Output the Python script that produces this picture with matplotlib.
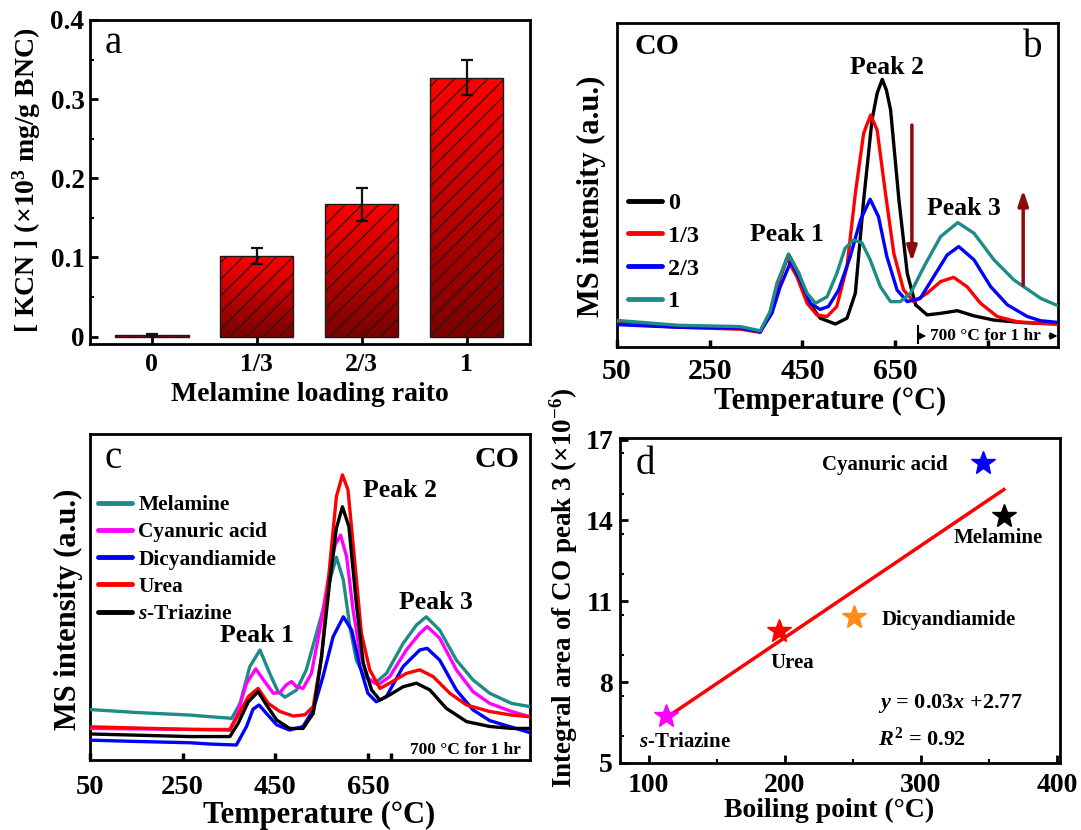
import numpy as np
import matplotlib
matplotlib.use("Agg")
import matplotlib.pyplot as plt
from matplotlib.colors import LinearSegmentedColormap
from matplotlib.ticker import MultipleLocator

plt.rcParams['font.family'] = ['Liberation Serif', 'DejaVu Serif']
plt.rcParams['font.weight'] = 'bold'
plt.rcParams['axes.labelweight'] = 'bold'
plt.rcParams['mathtext.fontset'] = 'custom'
plt.rcParams['mathtext.rm'] = 'Liberation Serif:bold'
plt.rcParams['mathtext.it'] = 'Liberation Serif:italic:bold'
plt.rcParams['mathtext.bf'] = 'Liberation Serif:bold'
plt.rcParams['hatch.linewidth'] = 0.8

# ---------------- data ----------------
# panel a
ratio_labels = ['0', '1/3', '2/3', '1']
kcn_values = [0.002, 0.102, 0.167, 0.327]
kcn_errors = [0.001, 0.010, 0.021, 0.022]

# panel b (MS intensity, arbitrary units 0-100)
b_black_x = [50, 182, 316, 359, 380, 395, 420, 442, 460, 488, 521, 546, 564, 582, 600, 611, 622, 631, 640, 658, 676, 694, 719, 748, 784, 820, 863, 928, 964, 1000]
b_black_y = [7.7, 6.4, 5.8, 4.7, 10.4, 18.6, 28.6, 22.7, 14.5, 8.9, 7.1, 8.9, 16.6, 45.4, 70.1, 78.3, 82.6, 79.3, 73.2, 45.4, 22.7, 13.0, 9.9, 10.4, 11.2, 9.6, 8.3, 7.5, 7.3, 7.2]
b_red_x = [50, 182, 316, 359, 380, 395, 416, 438, 460, 481, 503, 524, 546, 564, 582, 597, 611, 629, 647, 668, 690, 719, 748, 776, 805, 834, 870, 913, 964, 1000]
b_red_y = [7.2, 6.1, 5.5, 4.5, 10.4, 18.6, 27.4, 21.7, 13.5, 9.9, 9.4, 12.5, 24.8, 47.4, 66.0, 71.6, 67.0, 47.4, 28.9, 17.6, 14.0, 16.6, 20.2, 21.5, 18.6, 13.5, 9.4, 7.8, 7.3, 7.0]
b_blue_x = [50, 182, 316, 359, 384, 402, 425, 445, 467, 488, 506, 528, 553, 575, 596, 614, 632, 654, 676, 704, 733, 762, 787, 820, 856, 892, 935, 964, 1000]
b_blue_y = [6.9, 6.1, 5.8, 4.7, 10.4, 18.6, 26.4, 20.7, 13.5, 11.6, 12.5, 17.6, 27.9, 39.2, 45.6, 40.2, 27.9, 17.6, 14.0, 15.0, 21.7, 28.4, 31.0, 26.9, 18.6, 13.0, 9.4, 8.1, 7.6]
b_teal_x = [50, 182, 316, 359, 380, 395, 420, 442, 460, 478, 503, 524, 542, 560, 578, 596, 618, 640, 661, 683, 712, 748, 785, 820, 863, 906, 964, 1000]
b_teal_y = [8.2, 6.7, 6.3, 5.0, 10.9, 19.7, 28.6, 22.7, 16.6, 13.5, 15.5, 22.7, 30.5, 33.0, 32.2, 26.9, 18.6, 14.0, 14.0, 16.6, 24.8, 34.1, 38.4, 35.1, 26.9, 20.7, 15.0, 12.8]
b_labels = ['0', '1/3', '2/3', '1']

# panel c
c_mel_x = [50, 150, 266, 309, 356, 374, 395, 417, 438, 456, 471, 496, 517, 535, 553, 568, 582, 597, 611, 625, 643, 665, 690, 726, 755, 776, 805, 841, 877, 913, 960, 1000]
c_mel_y = [15.5, 14.6, 13.8, 13.3, 12.8, 17.4, 28.7, 33.8, 26.6, 21.0, 19.3, 21.5, 27.7, 36.9, 46.1, 55.3, 62.3, 55.3, 41.0, 30.7, 25.6, 23.6, 26.6, 35.8, 41.5, 44.0, 39.9, 30.7, 24.6, 20.5, 17.4, 16.4]
c_cya_x = [50, 266, 352, 366, 388, 408, 427, 446, 460, 474, 485, 496, 510, 528, 546, 564, 579, 591, 604, 618, 633, 650, 672, 697, 733, 762, 778, 805, 841, 877, 913, 960, 1000]
c_cya_y = [9.7, 9.4, 9.4, 13.3, 23.6, 28.0, 24.1, 20.5, 20.7, 23.1, 24.1, 22.5, 22.0, 26.6, 39.9, 55.3, 66.0, 69.1, 62.5, 46.1, 32.8, 25.1, 23.1, 25.6, 33.8, 38.9, 41.0, 37.4, 27.7, 21.0, 17.4, 14.9, 13.3]
c_dic_x = [50, 150, 266, 309, 366, 388, 402, 415, 431, 453, 481, 510, 532, 553, 575, 597, 615, 633, 650, 668, 690, 726, 762, 778, 805, 841, 877, 913, 960, 1000]
c_dic_y = [6.1, 5.7, 5.3, 4.9, 4.6, 10.3, 15.6, 16.9, 14.3, 10.8, 9.2, 10.3, 15.4, 25.6, 37.9, 44.0, 39.9, 28.7, 20.5, 17.9, 19.5, 28.7, 33.8, 34.3, 30.7, 21.5, 15.4, 12.1, 10.1, 8.4]
c_urea_x = [50, 266, 352, 370, 392, 413, 435, 460, 489, 514, 532, 550, 568, 582, 595, 607, 622, 636, 654, 676, 697, 733, 762, 791, 827, 863, 913, 960, 1000]
c_urea_y = [10.2, 9.4, 9.2, 13.8, 19.5, 22.0, 17.4, 14.9, 13.5, 13.9, 16.4, 31.8, 60.4, 80.9, 87.6, 83.0, 60.4, 38.9, 27.7, 22.0, 23.6, 26.6, 27.7, 25.6, 20.5, 16.9, 14.9, 13.8, 13.3]
c_tri_x = [50, 266, 352, 370, 392, 413, 431, 453, 481, 510, 532, 550, 568, 582, 595, 609, 625, 640, 658, 676, 697, 726, 755, 784, 819, 863, 913, 960, 1000]
c_tri_y = [8.0, 7.2, 7.2, 11.3, 17.9, 21.0, 16.9, 12.3, 9.7, 9.7, 14.3, 31.8, 55.3, 71.2, 77.8, 71.7, 48.1, 29.7, 21.5, 18.4, 20.0, 22.5, 23.6, 21.5, 15.9, 11.8, 10.3, 9.7, 9.7]
c_labels = ['Melamine', 'Cyanuric acid', 'Dicyandiamide', 'Urea', '$s$-Triazine']

# panel d
d_names = ['$s$-Triazine', 'Urea', 'Dicyandiamide', 'Cyanuric acid', 'Melamine']
d_boiling = [112.7, 195.7, 251.0, 345.6, 360.8]
d_area = [6.76, 9.90, 10.40, 16.13, 14.16]
d_colors = ['#FF00FF', '#FF0000', '#FF8C1A', '#0000FF', '#000000']

TEAL = '#1E8C86'

# ---------------- figure ----------------
W, H = 1081, 830
fig = plt.figure(figsize=(W / 100, H / 100), dpi=100)

def ax_at(l, t, r, b):
    return fig.add_axes([l / W, 1 - b / H, (r - l) / W, (b - t) / H])

axa = ax_at(90, 20, 529.5, 344.5)
axb = ax_at(617, 23, 1057.5, 347)
axc = ax_at(90, 434.5, 530, 760)
axd = ax_at(620, 438, 1060, 763)

for ax in (axa, axb, axc, axd):
    for s in ax.spines.values():
        s.set_linewidth(2.0)

# ---------- panel a ----------
xpos = np.arange(len(kcn_values))
cmap_bar = LinearSegmentedColormap.from_list('bar', ['#7A0000', '#FF0000'])
bars = axa.bar(xpos, kcn_values, width=0.70, color='none', edgecolor='#1a1a1a',
               linewidth=1.0, hatch='//', zorder=3)
grad = np.linspace(0, 1, 256).reshape(-1, 1)
for bar in bars:
    x0, w, h = bar.get_x(), bar.get_width(), bar.get_height()
    im = axa.imshow(grad, extent=(x0, x0 + w, 0, h), origin='lower', aspect='auto',
                    cmap=cmap_bar, zorder=2)
    im.set_clip_path(bar)
axa.errorbar(xpos, kcn_values, yerr=kcn_errors, fmt='none', ecolor='#111111',
             elinewidth=1.6, capsize=4, capthick=1.6, zorder=4)
axa.set_xlim(-0.59, 3.6)
axa.set_ylim(-0.01, 0.4)
axa.set_xticks(xpos)
axa.set_xticklabels(ratio_labels)
axa.set_yticks([0, 0.1, 0.2, 0.3, 0.4])
axa.set_yticklabels(['0', '0.1', '0.2', '0.3', '0.4'])
axa.yaxis.set_minor_locator(MultipleLocator(0.05))
axa.tick_params(axis='x', direction='in', length=5, width=2, labelsize=18.5, pad=6)
axa.tick_params(axis='y', which='major', direction='in', length=6, width=2, labelsize=19.5, pad=4)
axa.tick_params(axis='y', which='minor', direction='in', length=3, width=1.5)
axa.set_xlabel('Melamine loading raito', fontsize=20)
axa.set_ylabel('[ KCN ] (×10$^3$ mg/g BNC)', fontsize=20)
axa.xaxis.label.set_va('center')
axa.yaxis.label.set_va('center')
axa.xaxis.set_label_coords(0.501, -0.155)
axa.yaxis.set_label_coords(-0.143, 0.507)
axa.text(0.054, 0.928, 'a', transform=axa.transAxes, fontsize=28, fontweight='normal',
         ha='center', va='center')

# ---------- panel b ----------
lw = 2.4
line_kw = dict(lw=lw, zorder=3, solid_joinstyle='round', solid_capstyle='round')
axb.plot(b_black_x, b_black_y, color='black', label=b_labels[0], **line_kw)
axb.plot(b_red_x, b_red_y, color='#FF0000', label=b_labels[1], **line_kw)
axb.plot(b_blue_x, b_blue_y, color='#0000FF', label=b_labels[2], **line_kw)
axb.plot(b_teal_x, b_teal_y, color=TEAL, label=b_labels[3], **line_kw)
axb.set_xlim(50, 1000)
axb.set_ylim(0, 100)
axb.set_xticks([50, 250, 450, 650, 850])
axb.set_xticklabels(['50', '250', '450', '650', ''])
axb.set_yticks([])
axb.tick_params(axis='x', direction='in', length=5, width=2.5, labelsize=21.5, pad=8)
axb.set_xlabel('Temperature (°C)', fontsize=22)
axb.set_ylabel('MS intensity (a.u.)', fontsize=22)
axb.xaxis.label.set_va('center')
axb.yaxis.label.set_va('center')
axb.xaxis.set_label_coords(0.483, -0.167)
axb.yaxis.set_label_coords(-0.057, 0.466)
leg = axb.legend(loc='upper left', bbox_to_anchor=(0.025, 0.478), frameon=False,
                 fontsize=17.5, handlelength=1.4, handletextpad=0.25, labelspacing=0.44,
                 borderaxespad=0, borderpad=0)
for l in leg.get_lines():
    l.set_linewidth(3.5)
axb.text(136, 92.6, 'CO', fontsize=21.5, ha='center', va='center')
axb.text(0.944, 0.923, 'b', transform=axb.transAxes, fontsize=28, fontweight='normal',
         ha='center', va='center')
axb.text(416, 34.6, 'Peak 1', fontsize=18.5, ha='center', va='center')
axb.text(632, 86.4, 'Peak 2', fontsize=18.5, ha='center', va='center')
axb.text(799, 42.9, 'Peak 3', fontsize=18.5, ha='center', va='center')
arrow_col = '#8B0A0A'
axb.annotate('', xy=(686, 26.3), xytext=(686, 68.5),
             arrowprops=dict(arrowstyle='-|>,head_length=0.9,head_width=0.3', lw=2.5,
                             color=arrow_col, shrinkA=0, shrinkB=0))
axb.annotate('', xy=(926, 48.5), xytext=(926, 19.1),
             arrowprops=dict(arrowstyle='-|>,head_length=0.9,head_width=0.3', lw=2.5,
                             color=arrow_col, shrinkA=0, shrinkB=0))
axb.plot([700, 700], [1.2, 6.5], color='black', lw=1.5)
axb.annotate('', xy=(717, 3.4), xytext=(700, 3.4),
             arrowprops=dict(arrowstyle='-|>,head_length=0.4,head_width=0.2', lw=1.2,
                             color='black', shrinkA=0, shrinkB=0))
axb.annotate('', xy=(1000, 3.4), xytext=(982, 3.4),
             arrowprops=dict(arrowstyle='-|>,head_length=0.4,head_width=0.2', lw=1.2,
                             color='black', shrinkA=0, shrinkB=0))
axb.text(845, 3.4, '700 °C for 1 hr', fontsize=12.5, ha='center', va='center')

# ---------- panel c ----------
axc.plot(c_mel_x, c_mel_y, color=TEAL, label=c_labels[0], **line_kw)
axc.plot(c_cya_x, c_cya_y, color='#FF00FF', label=c_labels[1], **line_kw)
axc.plot(c_dic_x, c_dic_y, color='#0000FF', label=c_labels[2], **line_kw)
axc.plot(c_urea_x, c_urea_y, color='#FF0000', label=c_labels[3], **line_kw)
axc.plot(c_tri_x, c_tri_y, color='black', label=c_labels[4], **line_kw)
axc.set_xlim(50, 1000)
axc.set_ylim(0, 100)
axc.set_xticks([50, 250, 450, 650, 700])
axc.set_xticklabels(['50', '250', '450', '650', ''])
axc.set_yticks([])
axc.tick_params(axis='x', direction='in', length=5, width=2.5, labelsize=20.5, pad=11)
axc.set_xlabel('Temperature (°C)', fontsize=22)
axc.set_ylabel('MS intensity (a.u.)', fontsize=22)
axc.xaxis.label.set_va('center')
axc.yaxis.label.set_va('center')
axc.xaxis.set_label_coords(0.52, -0.169)
axc.yaxis.set_label_coords(-0.048, 0.464)
legc = axc.legend(loc='upper left', bbox_to_anchor=(0.018, 0.814), frameon=False,
                  fontsize=15.4, handlelength=1.6, handletextpad=0.29, labelspacing=0.34,
                  borderaxespad=0, borderpad=0)
for l in legc.get_lines():
    l.set_linewidth(3.5)
axc.text(928, 92.2, 'CO', fontsize=21.5, ha='center', va='center')
axc.text(0.053, 0.927, 'c', transform=axc.transAxes, fontsize=28, fontweight='normal',
         ha='center', va='center')
axc.text(410, 38.4, 'Peak 1', fontsize=18.5, ha='center', va='center')
axc.text(719, 82.9, 'Peak 2', fontsize=18.5, ha='center', va='center')
axc.text(797, 48.5, 'Peak 3', fontsize=18.5, ha='center', va='center')
axc.text(0.979, 0.031, '700 °C for 1 hr', transform=axc.transAxes, fontsize=12.5,
         ha='right', va='center')

# ---------- panel d ----------
for xb, ya, c in zip(d_boiling, d_area, d_colors):
    axd.plot([xb], [ya], marker='*', markersize=18, color=c, linestyle='none', zorder=4)
slope, intercept = np.polyfit(d_boiling, d_area, 1)
fit_x = np.array([min(d_boiling) + 0.7, max(d_boiling)])
axd.plot(fit_x, slope * fit_x + intercept, color='#FF0000', lw=2.5, zorder=3)
axd.set_xlim(79, 402)
axd.set_ylim(5, 17.06)
axd.set_xticks([100, 200, 300, 400])
axd.set_yticks([5, 8, 11, 14, 17])
axd.xaxis.set_minor_locator(MultipleLocator(50))
axd.yaxis.set_minor_locator(MultipleLocator(1.5))
axd.tick_params(which='major', direction='in', length=6, width=2, labelsize=20)
axd.tick_params(axis='x', which='major', pad=7)
axd.tick_params(axis='y', which='major', pad=5)
axd.tick_params(which='minor', direction='in', length=3, width=1.5)
axd.set_xlabel('Boiling point (°C)', fontsize=20)
axd.set_ylabel('Integral area of CO peak 3 (×10$^{-6}$)', fontsize=19.5)
axd.xaxis.label.set_va('center')
axd.yaxis.label.set_va('center')
axd.xaxis.set_label_coords(0.475, -0.145)
axd.yaxis.set_label_coords(-0.127, 0.54)
axd.text(0.057, 0.917, 'd', transform=axd.transAxes, fontsize=28, fontweight='normal',
         ha='center', va='center')
label_pos = [(126.6, 5.78), (205.8, 8.7), (320.3, 10.31), (273.4, 16.07), (357, 13.36)]
for name, (tx, ty) in zip(d_names, label_pos):
    axd.text(tx, ty, name, fontsize=15, ha='center', va='center')
axd.text(268.4, 7.19, '$y$ = 0.03$x$ +2.77', fontsize=16, ha='left', va='center')
axd.text(268.4, 5.9, '$R^2$ = 0.92', fontsize=16, ha='left', va='center')

fig.savefig('out.png', dpi=100)
